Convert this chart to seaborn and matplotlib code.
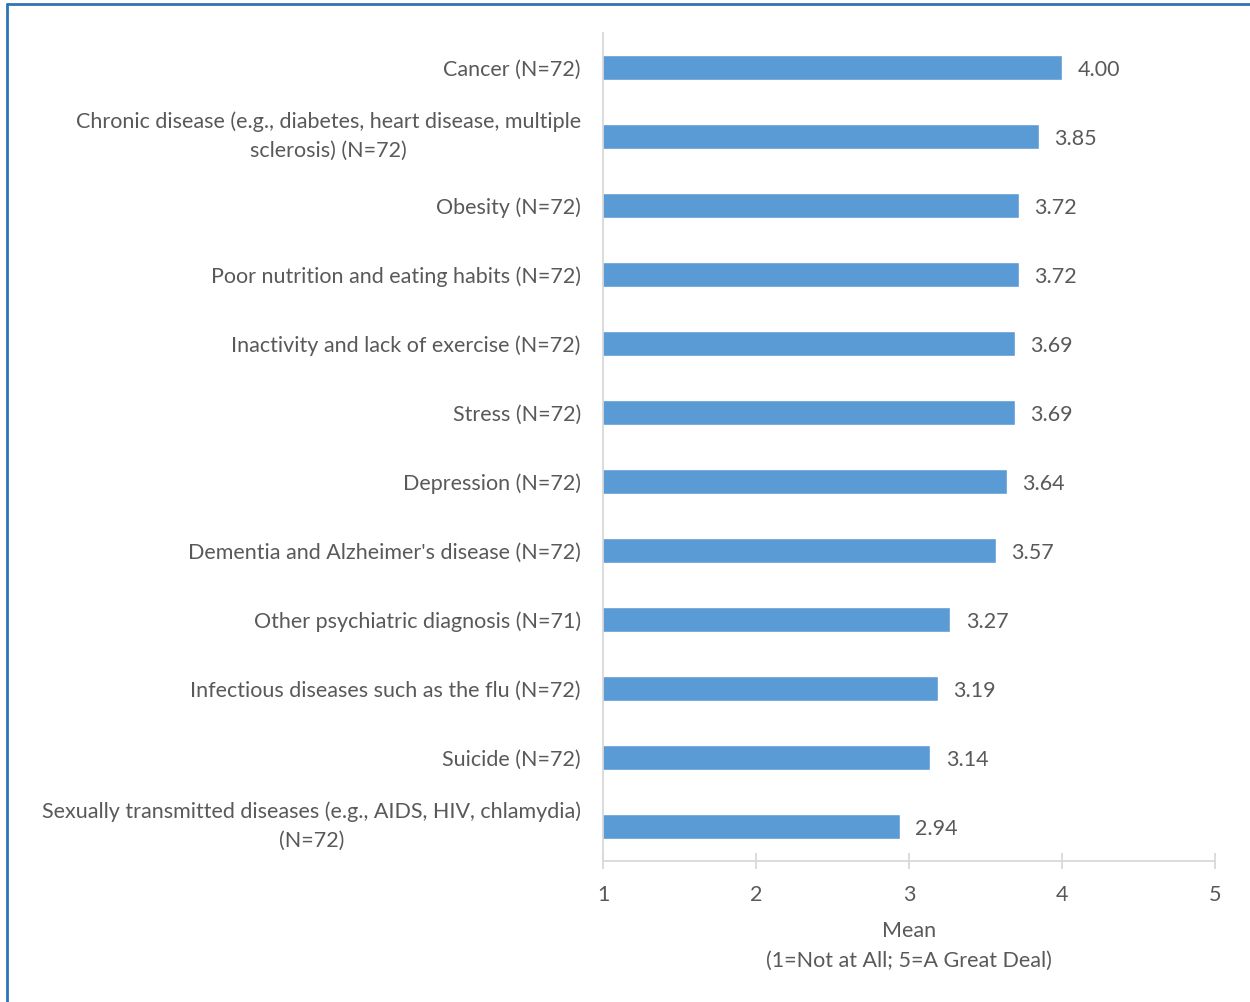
import pandas as pd
import matplotlib
matplotlib.use('Agg')
import matplotlib.pyplot as plt
import seaborn as sns

# Data
categories = [
    'Cancer (N=72)',
    'Chronic disease (e.g., diabetes, heart disease, multiple\nsclerosis) (N=72)',
    'Obesity (N=72)',
    'Poor nutrition and eating habits (N=72)',
    'Inactivity and lack of exercise (N=72)',
    'Stress (N=72)',
    'Depression (N=72)',
    "Dementia and Alzheimer's disease (N=72)",
    'Other psychiatric diagnosis (N=71)',
    'Infectious diseases such as the flu (N=72)',
    'Suicide (N=72)',
    'Sexually transmitted diseases (e.g., AIDS, HIV, chlamydia)\n(N=72)',
]
means = [4.00, 3.85, 3.72, 3.72, 3.69, 3.69, 3.64, 3.57, 3.27, 3.19, 3.14, 2.94]
xticks = [1, 2, 3, 4, 5]

df = pd.DataFrame({'Category': categories, 'Mean': means})

sns.set_style('white')
plt.rcParams['font.family'] = ['Lato', 'DejaVu Sans']

text_color = '#595959'
bar_color = '#5B9BD5'
grid_color = '#D9D9D9'
fs = 15.5

fig = plt.figure(figsize=(12.5, 10.02), dpi=100)
ax = fig.add_axes([0.4824, 0.1407, 0.4896, 0.8263])

sns.barplot(x='Mean', y='Category', data=df, color=bar_color, orient='h',
            width=0.35, saturation=1, ax=ax)

ax.set_xlim(1, 5)
ax.set_ylim(11.5, -0.5)
ax.set_xticks(xticks)

for i, v in enumerate(means):
    ax.text(v + 0.1, i + 0.04, f'{v:.2f}', va='center', ha='left',
            fontsize=fs, color=text_color)

for s in ['top', 'right']:
    ax.spines[s].set_visible(False)
for s in ['left', 'bottom']:
    ax.spines[s].set_color(grid_color)
    ax.spines[s].set_linewidth(1.3)

ax.tick_params(axis='x', bottom=True, direction='inout', length=11, width=1.3,
               color=grid_color, labelsize=fs, labelcolor=text_color, pad=12)
ax.tick_params(axis='y', left=False, length=0, labelsize=fs,
               labelcolor=text_color, pad=16)
for lbl in ax.get_yticklabels():
    lbl.set_multialignment('center')
    lbl.set_linespacing(1.55)
    if '\n' in lbl.get_text():
        lbl.set_verticalalignment('center')

ax.set_ylabel('')
ax.set_xlabel('Mean\n(1=Not at All; 5=A Great Deal)', fontsize=fs,
              color=text_color, labelpad=11, linespacing=1.65)

# blue frame at left and top of the figure
fig.add_artist(plt.Line2D([0.0056, 0.0056], [0, 0.996], color='#2E75B6', lw=2,
                          transform=fig.transFigure))
fig.add_artist(plt.Line2D([0.0056, 1], [0.996, 0.996], color='#2E75B6', lw=2,
                          transform=fig.transFigure))

plt.savefig('out.png', dpi=100)
